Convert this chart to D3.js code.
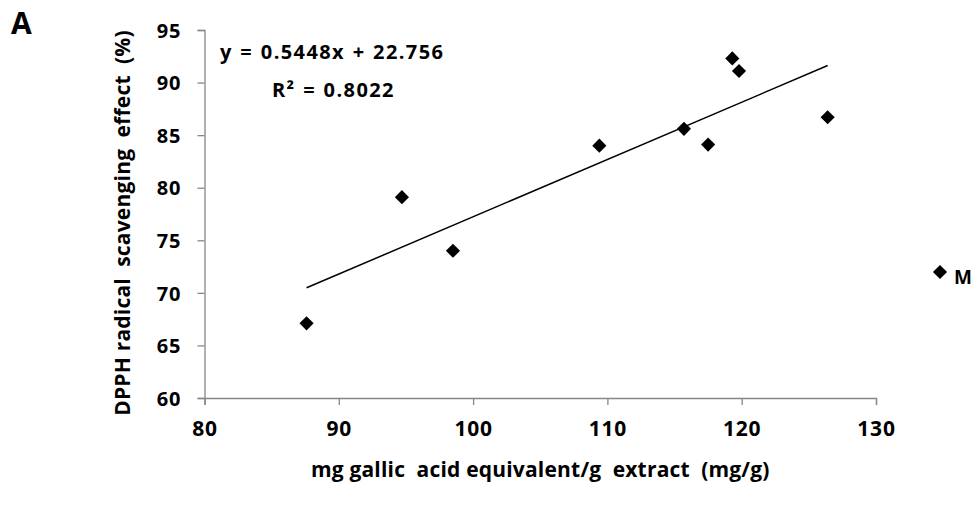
<!DOCTYPE html>
<html>
<head>
<meta charset="utf-8">
<script src="https://cdn.jsdelivr.net/npm/d3@7"></script>
<style>
  html, body { margin: 0; padding: 0; background: #fff; }
  svg text { font-family: "Open Sans", "Noto Sans", sans-serif; font-weight: 700; fill: #000; white-space: pre; }
</style>
</head>
<body>
<svg id="chart" width="979" height="514"></svg>
<script>
// ---- data ----
const xValues = [87.6, 94.7, 98.5, 109.4, 115.7, 117.5, 119.3, 119.8, 126.4];
const yValues = [67.1, 79.1, 74.0, 84.0, 85.6, 84.1, 92.3, 91.1, 86.7];
const xTicks = [80, 90, 100, 110, 120, 130];
const yTicks = [60, 65, 70, 75, 80, 85, 90, 95];
const slope = 0.5448;
const intercept = 22.756;
const equationLabel = "y = 0.5448x + 22.756";
const r2Label = "R² = 0.8022";
const seriesName = "M";
const xTitle = "mg gallic  acid equivalent/g  extract  (mg/g)";
const yTitle = "DPPH radical  scavenging  effect  (%)";
const panelLabel = "A";

const svg = d3.select("#chart");
const x = d3.scaleLinear().domain([80, 130]).range([204.5, 876]);
const y = d3.scaleLinear().domain([60, 95]).range([398, 30]);
const axisColor = "#868686";

// axes
const gx = svg.append("g").attr("transform", `translate(0,${y(60)})`)
  .call(d3.axisBottom(x).tickValues(xTicks).tickSize(7).tickPadding(10).tickFormat(d3.format("d")));
const gy = svg.append("g").attr("transform", `translate(${x(80)},0)`)
  .call(d3.axisLeft(y).tickValues(yTicks).tickSize(7).tickPadding(16).tickFormat(d3.format("d")));
[gx, gy].forEach(g => {
  g.select(".domain").attr("stroke", axisColor).attr("stroke-width", 1.3);
  g.selectAll(".tick line").attr("stroke", axisColor).attr("stroke-width", 1.3);
  g.selectAll(".tick text").attr("fill", "#000");
});
gx.selectAll(".tick text").style("font-size", "21px").style("letter-spacing", "0.8px").attr("dy", "1.0em");
gy.selectAll(".tick text").style("font-size", "20px").style("letter-spacing", "1px").attr("dy", "0.36em");

// trendline
const xmin = d3.min(xValues), xmax = d3.max(xValues);
svg.append("line")
  .attr("x1", x(xmin)).attr("y1", y(slope * xmin + intercept))
  .attr("x2", x(xmax)).attr("y2", y(slope * xmax + intercept))
  .attr("stroke", "#000").attr("stroke-width", 1.5);

// points
const diamond = d3.symbol().type(d3.symbolSquare).size(100);
const pts = xValues.map((v, i) => [v, yValues[i]]);
svg.append("g").selectAll("path").data(pts).join("path")
  .attr("d", diamond)
  .attr("transform", d => `translate(${x(d[0])},${y(d[1])}) rotate(45)`)
  .attr("fill", "#000");

// equation labels
svg.append("text").attr("x", 220).attr("y", 59).style("font-size", "20px")
  .style("letter-spacing", "1.4px").style("word-spacing", "1px").text(equationLabel);
svg.append("text").attr("x", 272).attr("y", 97).style("font-size", "20px")
  .style("letter-spacing", "1.4px").style("word-spacing", "1px").text(r2Label);

// legend
svg.append("path").attr("d", diamond).attr("transform", "translate(940,272) rotate(45)").attr("fill", "#000");
svg.append("text").attr("x", 954).attr("y", 284).style("font-size", "19px").text(seriesName);

// axis titles
svg.append("text").attr("x", (x(80) + x(130)) / 2).attr("y", 477).attr("text-anchor", "middle")
  .style("font-size", "21px").style("letter-spacing", "0.2px").text(xTitle);
svg.append("text").attr("transform", `translate(130,223) rotate(-90)`)
  .attr("text-anchor", "middle").style("font-size", "21px").style("letter-spacing", "0.2px").text(yTitle);

// panel label
svg.append("text").attr("x", 11).attr("y", 34).style("font-size", "30px").style("letter-spacing", "1px").text(panelLabel);
</script>
</body>
</html>
